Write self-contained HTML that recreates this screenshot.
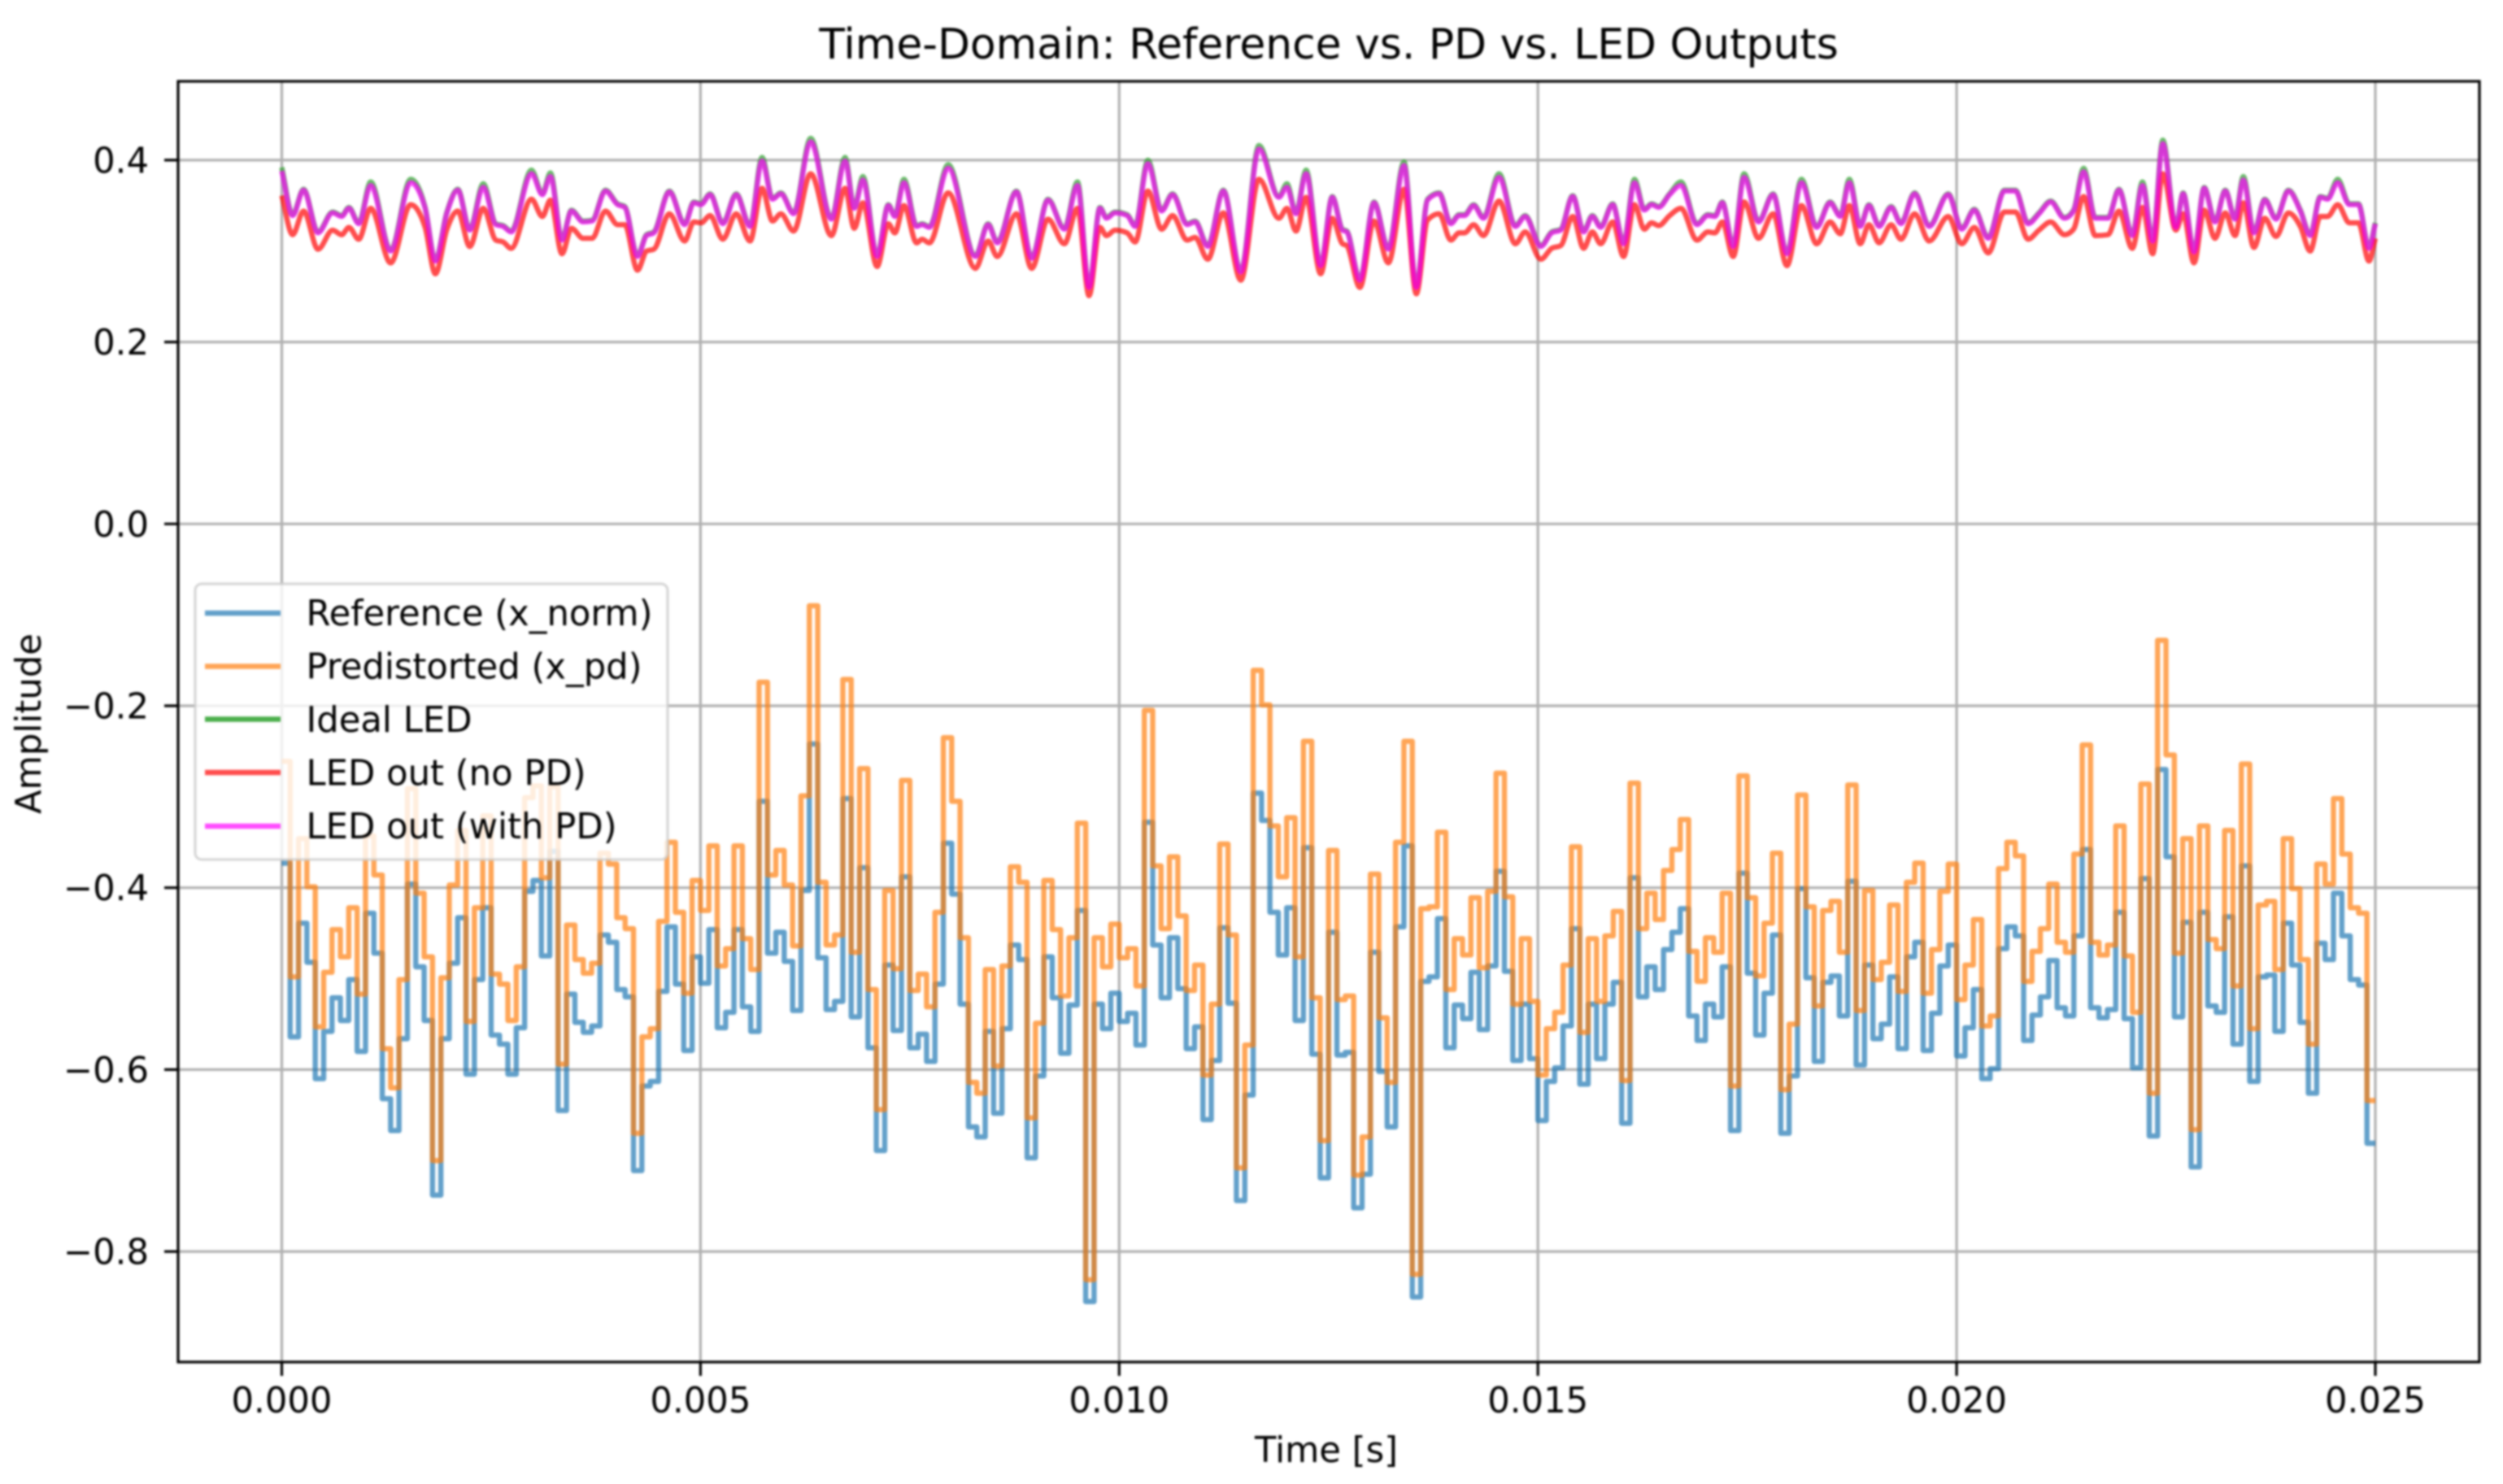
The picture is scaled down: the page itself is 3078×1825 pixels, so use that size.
<!DOCTYPE html>
<html lang="en">
<head>
<meta charset="utf-8">
<title>Time-Domain: Reference vs. PD vs. LED Outputs</title>
<style>
html,body{margin:0;padding:0;background:#fff;width:3078px;height:1825px;overflow:hidden}
svg{display:block;filter:blur(1.2px)}
text{font-family:"DejaVu Sans","Liberation Sans",sans-serif;fill:#000}
</style>
</head>
<body>
<svg id="chart" xmlns="http://www.w3.org/2000/svg" width="3078" height="1825" viewBox="0 0 3078 1825">
<defs><clipPath id="plot-clip"><rect x="219" y="100" width="2830" height="1575"/></clipPath></defs>
<rect x="0" y="0" width="3078" height="1825" fill="#fff"/>
<g id="grid"></g>
<g id="series" clip-path="url(#plot-clip)"></g>
<g id="ticks"></g>
<rect x="219" y="100" width="2830" height="1575" fill="none" stroke="#000" stroke-width="3.2"/>
<text x="1634" y="72" font-size="51.9" text-anchor="middle">Time-Domain: Reference vs. PD vs. LED Outputs</text>
<text x="1631" y="1798" font-size="43.3" text-anchor="middle">Time [s]</text>
<text transform="translate(50,890) rotate(-90)" font-size="43.3" text-anchor="middle">Amplitude</text>
<g>
<rect x="240" y="718" width="581" height="339" rx="8" ry="8" fill="#fff" fill-opacity="0.8" stroke="#ccc" stroke-opacity="0.8" stroke-width="3.2"/>
<g><line x1="252" x2="345" y1="754" y2="754" stroke="#1f77b4" stroke-opacity="0.7" stroke-width="6.4"/><text x="376.5" y="769" font-size="43.3">Reference (x_norm)</text></g>
<g><line x1="252" x2="345" y1="819.5" y2="819.5" stroke="#ff7f0e" stroke-opacity="0.7" stroke-width="6.4"/><text x="376.5" y="834.5" font-size="43.3">Predistorted (x_pd)</text></g>
<g><line x1="252" x2="345" y1="884.5" y2="884.5" stroke="#2ca02c" stroke-opacity="0.85" stroke-width="6.4"/><text x="376.5" y="900" font-size="43.3">Ideal LED</text></g>
<g><line x1="252" x2="345" y1="950" y2="950" stroke="#ff0000" stroke-opacity="0.7" stroke-width="6.4"/><text x="376.5" y="965.5" font-size="43.3">LED out (no PD)</text></g>
<g><line x1="252" x2="345" y1="1016" y2="1016" stroke="#ff00ff" stroke-opacity="0.7" stroke-width="6.4"/><text x="376.5" y="1031" font-size="43.3">LED out (with PD)</text></g>
</g>
</svg>
<script>
// Tick labels
const xTickValues = [0, 0.005, 0.010, 0.015, 0.020, 0.025];
const xTickLabels = ["0.000", "0.005", "0.010", "0.015", "0.020", "0.025"];
const yTickValues = [0.4, 0.2, 0.0, -0.2, -0.4, -0.6, -0.8];
const yTickLabels = ["0.4", "0.2", "0.0", "\u22120.2", "\u22120.4", "\u22120.6", "\u22120.8"];

// Sample period of the stepped signals, seconds
const samplePeriod = 0.0001;

// Reference (x_norm), one level per sample
const referenceValues = [
-.373,-.564,-.439,-.482,-.610,-.558,-.521,-.546,-.501,-.580,
-.428,-.472,-.632,-.667,-.566,-.396,-.487,-.546,-.738,-.566,
-.483,-.433,-.605,-.501,-.422,-.562,-.572,-.605,-.554,-.404,
-.392,-.475,-.360,-.645,-.517,-.548,-.559,-.552,-.452,-.460,
-.512,-.520,-.711,-.618,-.613,-.514,-.443,-.506,-.579,-.476,
-.505,-.446,-.554,-.537,-.446,-.531,-.558,-.305,-.472,-.449,
-.481,-.535,-.403,-.242,-.477,-.534,-.525,-.302,-.542,-.378,
-.576,-.689,-.485,-.557,-.388,-.576,-.561,-.591,-.506,-.351,
-.407,-.528,-.663,-.674,-.558,-.648,-.555,-.463,-.479,-.697,
-.607,-.476,-.521,-.582,-.529,-.425,-.855,-.528,-.555,-.516,
-.547,-.538,-.573,-.328,-.463,-.521,-.455,-.511,-.577,-.553,
-.655,-.590,-.444,-.527,-.744,-.628,-.296,-.326,-.427,-.474,
-.422,-.546,-.356,-.583,-.719,-.449,-.584,-.581,-.752,-.715,
-.471,-.602,-.663,-.443,-.354,-.850,-.503,-.498,-.434,-.576,
-.529,-.544,-.493,-.556,-.486,-.382,-.492,-.590,-.528,-.588,
-.656,-.613,-.598,-.552,-.445,-.616,-.528,-.588,-.528,-.504,
-.659,-.389,-.520,-.487,-.512,-.468,-.449,-.423,-.541,-.568,
-.528,-.542,-.487,-.667,-.384,-.494,-.562,-.516,-.452,-.670,
-.607,-.401,-.499,-.591,-.504,-.497,-.541,-.393,-.595,-.485,
-.566,-.550,-.498,-.577,-.476,-.460,-.579,-.538,-.486,-.463,
-.585,-.554,-.512,-.610,-.599,-.467,-.443,-.453,-.568,-.540,
-.520,-.480,-.532,-.541,-.453,-.358,-.532,-.543,-.534,-.427,
-.544,-.598,-.390,-.673,-.270,-.366,-.542,-.438,-.707,-.427,
-.530,-.537,-.432,-.572,-.376,-.613,-.498,-.496,-.558,-.439,
-.485,-.548,-.626,-.461,-.479,-.406,-.453,-.501,-.507,-.681];

// Predistorted (x_pd), one level per sample
const predistortedValues = [
-.261,-.498,-.346,-.399,-.553,-.493,-.446,-.476,-.422,-.517,
-.343,-.386,-.577,-.620,-.501,-.291,-.406,-.476,-.700,-.499,
-.397,-.337,-.547,-.422,-.321,-.495,-.506,-.546,-.487,-.301,
-.288,-.389,-.289,-.594,-.441,-.479,-.494,-.483,-.362,-.374,
-.433,-.445,-.670,-.564,-.555,-.437,-.350,-.427,-.516,-.392,
-.425,-.354,-.486,-.467,-.354,-.456,-.490,-.174,-.386,-.359,
-.397,-.464,-.299,-.090,-.394,-.463,-.452,-.171,-.471,-.269,
-.512,-.644,-.403,-.489,-.282,-.513,-.495,-.531,-.427,-.235,
-.305,-.455,-.614,-.626,-.490,-.596,-.486,-.377,-.394,-.653,
-.549,-.392,-.446,-.519,-.455,-.329,-.831,-.455,-.487,-.440,
-.477,-.467,-.508,-.205,-.376,-.445,-.366,-.431,-.513,-.485,
-.606,-.528,-.352,-.452,-.708,-.573,-.161,-.199,-.332,-.388,
-.323,-.476,-.239,-.521,-.678,-.359,-.523,-.519,-.716,-.674,
-.385,-.543,-.614,-.350,-.239,-.825,-.423,-.421,-.339,-.512,
-.456,-.474,-.411,-.488,-.404,-.274,-.410,-.528,-.456,-.525,
-.606,-.555,-.537,-.485,-.355,-.559,-.456,-.525,-.453,-.426,
-.612,-.285,-.445,-.406,-.435,-.381,-.358,-.325,-.470,-.503,
-.455,-.471,-.406,-.618,-.277,-.411,-.497,-.439,-.362,-.622,
-.550,-.298,-.421,-.530,-.425,-.415,-.471,-.287,-.535,-.403,
-.501,-.482,-.419,-.514,-.394,-.373,-.516,-.468,-.404,-.374,
-.523,-.485,-.435,-.552,-.541,-.379,-.350,-.365,-.503,-.470,
-.445,-.396,-.460,-.471,-.363,-.243,-.460,-.474,-.463,-.332,
-.475,-.537,-.286,-.626,-.128,-.254,-.472,-.346,-.666,-.332,
-.457,-.467,-.337,-.508,-.264,-.555,-.419,-.415,-.490,-.346,
-.401,-.479,-.572,-.374,-.396,-.302,-.363,-.422,-.428,-.634];

// Times of the LED curve turning points, milliseconds
const ledTimesMs = [
0,.13,.26,.433,.607,.715,.802,.919,1.062,1.30,1.539,1.712,1.834,1.972,2.102,2.245,2.406,2.557,2.644,2.739,2.982,3.112,3.208,3.346,3.459,3.598,3.706,3.866,4.01,4.096,4.248,4.356,4.443,4.629,4.811,4.92,5.006,5.115,5.267,5.427,5.592,5.735,5.86,5.96,6.112,6.316,
6.563,6.727,6.836,6.94,7.109,7.243,7.321,7.43,7.581,7.646,7.733,7.958,8.283,8.435,8.544,8.773,8.955,9.15,9.345,9.502,9.64,9.77,9.848,9.952,10.095,10.191,10.342,10.507,10.637,10.811,10.906,11.058,11.244,11.452,11.669,11.907,12.003,12.111,12.232,12.406,12.544,12.666,12.718,12.874,13.043,
13.214,13.401,13.548,13.682,13.821,13.96,14.059,14.124,14.233,14.35,14.536,14.731,14.848,15.035,15.165,15.273,15.416,15.546,15.65,15.75,15.893,16.023,16.153,16.27,16.357,16.443,16.573,16.708,16.899,17.029,17.115,17.202,17.332,17.462,17.635,17.809,17.974,18.147,18.329,18.489,18.611,18.719,18.849,18.953,19.075,19.218,19.335,19.499,19.673,
19.9,20.061,20.212,20.377,20.572,20.702,20.854,20.984,21.123,21.287,21.396,21.517,21.656,21.808,21.938,22.098,22.219,22.341,22.462,22.618,22.705,22.835,22.956,23.086,23.208,23.325,23.424,23.55,23.68,23.814,23.962,24.105,24.222,24.343,24.43,24.551,24.69,24.798,24.924,25.0];

// Ideal LED
const idealLedValues = [
.392,.340,.368,.321,.343,.339,.348,.331,.376,.301,.379,.348,.290,.343,.368,.324,.374,.330,.328,.322,.389,.363,.386,.313,.345,.333,.334,.367,.352,.349,.295,.318,.321,.366,.330,.354,.352,.363,.331,.363,.328,.403,.358,.364,.342,.424,
.336,.403,.348,.382,.295,.351,.339,.379,.328,.330,.327,.395,.295,.330,.310,.366,.293,.357,.325,.376,.261,.348,.337,.343,.340,.328,.400,.345,.363,.330,.333,.306,.367,.278,.416,.360,.374,.342,.389,.285,.360,.324,.322,.269,.354,
.303,.398,.261,.357,.364,.331,.340,.340,.351,.337,.385,.328,.339,.306,.321,.324,.361,.322,.339,.327,.352,.309,.379,.346,.352,.349,.363,.376,.330,.340,.339,.354,.306,.385,.333,.363,.298,.379,.327,.354,.339,.379,.328,.351,.328,.349,.331,.364,.328,
.363,.325,.346,.315,.367,.367,.331,.342,.355,.337,.345,.391,.337,.337,.368,.318,.376,.312,.422,.327,.364,.300,.370,.333,.367,.336,.382,.321,.357,.336,.367,.345,.318,.360,.358,.379,.352,.352,.304,.331];

// LED out (no PD)
const ledNoPdValues = [
.361,.318,.344,.302,.323,.318,.326,.313,.347,.287,.351,.326,.275,.324,.344,.305,.347,.312,.310,.303,.357,.338,.356,.297,.325,.314,.314,.344,.329,.329,.279,.300,.302,.341,.311,.332,.331,.339,.313,.341,.311,.369,.333,.341,.322,.385,
.317,.369,.325,.353,.283,.330,.320,.350,.309,.313,.309,.364,.281,.311,.294,.341,.281,.335,.308,.347,.251,.326,.317,.323,.320,.310,.366,.324,.339,.312,.315,.291,.342,.268,.379,.336,.347,.322,.359,.275,.336,.308,.306,.260,.333,
.287,.368,.253,.334,.341,.312,.320,.320,.329,.317,.355,.308,.321,.291,.303,.306,.338,.303,.321,.308,.332,.294,.351,.324,.331,.328,.339,.347,.312,.321,.320,.332,.294,.354,.314,.341,.284,.350,.308,.332,.319,.350,.308,.329,.309,.329,.313,.341,.311,
.338,.308,.326,.298,.343,.343,.313,.323,.332,.318,.324,.360,.317,.318,.344,.303,.348,.297,.385,.323,.341,.287,.345,.314,.342,.317,.353,.304,.336,.316,.342,.327,.300,.338,.338,.351,.331,.331,.289,.314];

// LED out (with PD)
const ledWithPdValues = [
.388,.339,.367,.320,.342,.338,.347,.330,.372,.300,.375,.347,.289,.342,.367,.323,.370,.329,.327,.321,.385,.362,.382,.312,.344,.332,.333,.366,.351,.348,.294,.317,.320,.365,.329,.353,.351,.362,.330,.362,.327,.399,.357,.363,.341,.420,
.335,.399,.347,.378,.294,.350,.338,.375,.327,.329,.326,.391,.294,.329,.309,.365,.292,.356,.324,.372,.260,.347,.336,.342,.339,.327,.396,.344,.362,.329,.332,.305,.366,.277,.412,.359,.370,.341,.385,.284,.359,.323,.321,.268,.353,
.302,.394,.260,.356,.363,.330,.339,.339,.350,.336,.381,.327,.338,.305,.320,.323,.360,.321,.338,.326,.351,.308,.375,.345,.351,.348,.362,.372,.329,.339,.338,.353,.305,.381,.332,.362,.297,.375,.326,.353,.338,.375,.327,.350,.327,.348,.330,.363,.327,
.362,.324,.345,.314,.366,.366,.330,.341,.354,.336,.344,.387,.336,.336,.367,.317,.372,.311,.418,.326,.363,.299,.369,.332,.366,.335,.378,.320,.356,.335,.366,.344,.317,.359,.357,.375,.351,.351,.303,.330];

const SVG_NS = "http://www.w3.org/2000/svg";

// Axis functions (data to pixels)
function xScale(t) { return 346.5 + t * (2574.5 / 0.025); }
function yScale(v) { return 644.3 - v * (223.7 / 0.2); }

function stepPath(values) {
  let d = "M" + xScale(0).toFixed(2) + " " + yScale(values[0]).toFixed(2);
  for (let k = 0; k < values.length; k++) {
    d += "H" + xScale((k + 1) * samplePeriod).toFixed(2);
    if (k + 1 < values.length) d += "V" + yScale(values[k + 1]).toFixed(2);
  }
  return d;
}

// Monotone cubic through the curve's turning points
function smoothPath(timesMs, values) {
  const xs = timesMs.map(function (t) { return xScale(t / 1000); });
  const ys = values.map(yScale);
  const n = xs.length;
  const slopes = [];
  for (let i = 0; i < n - 1; i++) slopes.push((ys[i + 1] - ys[i]) / (xs[i + 1] - xs[i]));
  const tangents = [slopes[0]];
  for (let i = 1; i < n - 1; i++) {
    const a = slopes[i - 1], b = slopes[i];
    if (a * b <= 0) { tangents.push(0); continue; }
    const h0 = xs[i] - xs[i - 1], h1 = xs[i + 1] - xs[i];
    const p = (a * h1 + b * h0) / (h0 + h1);
    const s = (a > 0 ? 1 : -1);
    tangents.push(s * Math.min(Math.abs(a), Math.abs(b), 0.5 * Math.abs(p)) * 2);
  }
  tangents.push(slopes[n - 2]);
  let d = "M" + xs[0].toFixed(2) + " " + ys[0].toFixed(2);
  for (let i = 0; i < n - 1; i++) {
    const h = (xs[i + 1] - xs[i]) / 3;
    d += "C" + (xs[i] + h).toFixed(2) + " " + (ys[i] + tangents[i] * h).toFixed(2) + " "
      + (xs[i + 1] - h).toFixed(2) + " " + (ys[i + 1] - tangents[i + 1] * h).toFixed(2) + " "
      + xs[i + 1].toFixed(2) + " " + ys[i + 1].toFixed(2);
  }
  return d;
}

const gridGroup = document.getElementById("grid");
const tickGroup = document.getElementById("ticks");
const seriesGroup = document.getElementById("series");

xTickValues.forEach(function (v, i) {
  const x = xScale(v);
  const g = document.createElementNS(SVG_NS, "line");
  
  
  g.setAttribute("x1", x); g.setAttribute("x2", x);
  g.setAttribute("y1", 100); g.setAttribute("y2", 1675);
  g.setAttribute("stroke", "#b0b0b0"); g.setAttribute("stroke-width", "3.2");
  gridGroup.appendChild(g);
  const t = document.createElementNS(SVG_NS, "line");
  
  
  t.setAttribute("x1", x); t.setAttribute("x2", x);
  t.setAttribute("y1", 1675); t.setAttribute("y2", 1692);
  t.setAttribute("stroke", "#000"); t.setAttribute("stroke-width", "3.2");
  tickGroup.appendChild(t);
  const l = document.createElementNS(SVG_NS, "text");
  
  
  l.setAttribute("x", x); l.setAttribute("y", 1737);
  l.setAttribute("font-size", "43.3"); l.setAttribute("text-anchor", "middle");
  l.textContent = xTickLabels[i];
  tickGroup.appendChild(l);
});

yTickValues.forEach(function (v, i) {
  const y = yScale(v);
  const g = document.createElementNS(SVG_NS, "line");
  
  
  g.setAttribute("x1", 219); g.setAttribute("x2", 3049);
  g.setAttribute("y1", y); g.setAttribute("y2", y);
  g.setAttribute("stroke", "#b0b0b0"); g.setAttribute("stroke-width", "3.2");
  gridGroup.appendChild(g);
  const t = document.createElementNS(SVG_NS, "line");
  
  
  t.setAttribute("x1", 202); t.setAttribute("x2", 219);
  t.setAttribute("y1", y); t.setAttribute("y2", y);
  t.setAttribute("stroke", "#000"); t.setAttribute("stroke-width", "3.2");
  tickGroup.appendChild(t);
  const l = document.createElementNS(SVG_NS, "text");
  
  
  l.setAttribute("x", 183); l.setAttribute("y", y + 15.5);
  l.setAttribute("font-size", "43.3"); l.setAttribute("text-anchor", "end");
  l.textContent = yTickLabels[i];
  tickGroup.appendChild(l);
});

const referenceLine = document.createElementNS(SVG_NS, "path");


referenceLine.setAttribute("d", stepPath(referenceValues));
referenceLine.setAttribute("stroke", "#1f77b4");
seriesGroup.appendChild(referenceLine);

const predistortedLine = document.createElementNS(SVG_NS, "path");


predistortedLine.setAttribute("d", stepPath(predistortedValues));
predistortedLine.setAttribute("stroke", "#ff7f0e");
seriesGroup.appendChild(predistortedLine);

const idealLine = document.createElementNS(SVG_NS, "path");


idealLine.setAttribute("d", smoothPath(ledTimesMs, idealLedValues));
idealLine.setAttribute("stroke", "#2ca02c");
seriesGroup.appendChild(idealLine);

const noPdLine = document.createElementNS(SVG_NS, "path");


noPdLine.setAttribute("d", smoothPath(ledTimesMs, ledNoPdValues));
noPdLine.setAttribute("stroke", "#ff0000");
seriesGroup.appendChild(noPdLine);

const withPdLine = document.createElementNS(SVG_NS, "path");


withPdLine.setAttribute("d", smoothPath(ledTimesMs, ledWithPdValues));
withPdLine.setAttribute("stroke", "#ff00ff");
seriesGroup.appendChild(withPdLine);

Array.prototype.forEach.call(seriesGroup.children, function (p) {
  p.setAttribute("fill", "none");
  p.setAttribute("stroke-width", "6.4");
  p.setAttribute("stroke-opacity", "0.7");
  p.setAttribute("stroke-linejoin", "round");
});
</script>
</body>
</html>
